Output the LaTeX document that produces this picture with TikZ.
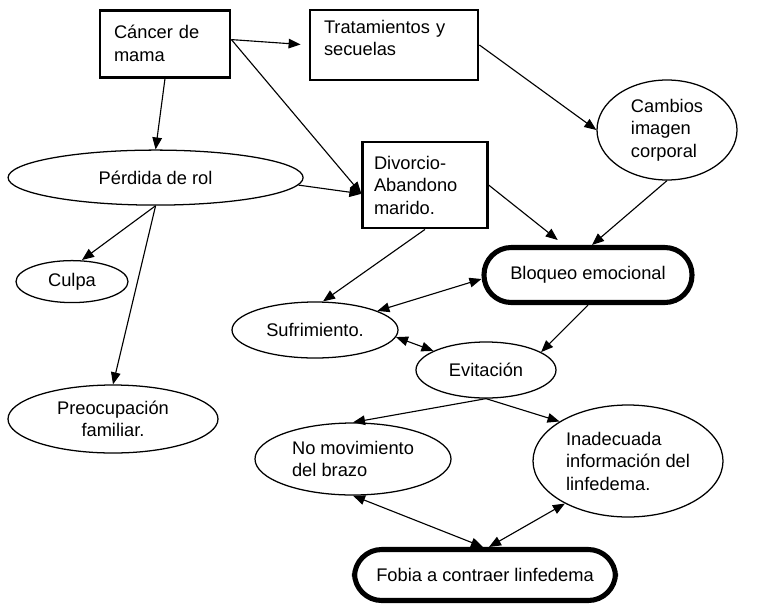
\documentclass[tikz,border=0pt]{standalone}
\usepackage{fontspec}
\setmainfont{Liberation Sans}
\usepackage{tikz}
\usetikzlibrary{positioning, arrows, arrows.meta, shapes.geometric}

\begin{document}
\begin{tikzpicture}[
  font=\fontsize{13pt}{16pt}\selectfont,
  >={Triangle[length=0.3cm, width=0.24cm]},
  conn/.style={->, line width=0.8pt},
  both/.style={<->, line width=0.8pt},
  box/.style={draw, rectangle, line width=2pt, align=left, inner xsep=0.35cm},
  oval/.style={draw, ellipse, line width=0.9pt, inner sep=0pt},
  keynode/.style={draw, rectangle, line width=3.6pt, rounded corners=0.68cm}
]
\useasboundingbox (0,0) rectangle (18.975,-15.125);

% Boxes
\node[box, text width=2.55cm, minimum height=1.675cm] (cancer) at (4.125,-1.09) {Cáncer de\\mama};
\node[box, text width=3.5cm, minimum height=1.75cm] (tratamientos) at (9.85,-1.125) {Tratamientos y\\secuelas\\[-6pt]\mbox{}};
\node[box, text width=2.55cm, minimum height=2.15cm, inner xsep=0.28cm] (divorcio) at (10.625,-4.625) {Divorcio-\\Abandono\\marido.};

% Ellipses
\node[oval, minimum width=7.375cm, minimum height=1.375cm] (perdida) at (3.89,-4.44) {Pérdida de rol};
\node[oval, minimum width=2.8cm, minimum height=1.05cm] (culpa) at (1.8,-7.04) {Culpa};
\node[oval, minimum width=5.25cm, minimum height=1.7cm, align=center] (preocupacion) at (2.825,-10.475) {Preocupación\\familiar.};
\node[oval, minimum width=4.15cm, minimum height=1.4cm] (sufrimiento) at (7.875,-8.25) {Sufrimiento.};
\node[oval, minimum width=3.5cm, minimum height=2.5cm, align=left] (cambios) at (16.675,-3.25) {Cambios\\imagen\\corporal};
\node[oval, minimum width=3.5cm, minimum height=1.4cm] (evitacion) at (12.15,-9.25) {Evitación};
\node[oval, minimum width=4.9cm, minimum height=1.8cm, align=left] (nomov) at (8.825,-11.475) {No movimiento\\del brazo};
\node[oval, minimum width=4.75cm, minimum height=2.8cm, align=left] (inadecuada) at (15.7,-11.525) {Inadecuada\\información del\\linfedema.};

% Thick rounded nodes
\node[keynode, minimum width=5.2cm, minimum height=1.375cm] (bloqueo) at (14.7,-6.875) {Bloqueo emocional};
\node[keynode, minimum width=6.525cm, minimum height=1.275cm] (fobia) at (12.125,-14.375) {Fobia a contraer linfedema};

% Arrows from the top
\draw[conn, shorten >=0.2cm] ([yshift=0.1cm]cancer.east) -- (tratamientos.west);
\draw[conn] (cancer.south) -- (perdida.north);
\draw[conn] ([yshift=0.1cm]cancer.east) -- ([yshift=-0.22cm]divorcio.west);
\draw[conn] (perdida.-3) -- ([yshift=-0.22cm]divorcio.west);
\draw[conn] (tratamientos.east) -- (cambios.west);
\draw[conn] (cambios.south) -- ([xshift=0.1cm]bloqueo.north);
\draw[conn, shorten >=0.2cm] (divorcio.east) -- ([xshift=-0.6cm]bloqueo.north);
\draw[conn] (divorcio.south) -- ([xshift=0.2cm]sufrimiento.north);
\draw[conn] (perdida.south) -- ([xshift=0.25cm]culpa.north);
\draw[conn] (perdida.south) -- (preocupacion.north);

% Middle
\draw[both] (sufrimiento.17) -- ([yshift=-0.1cm]bloqueo.west);
\draw[both] (sufrimiento.-5) -- (evitacion.160);
\draw[conn] (bloqueo.south) -- (evitacion.18);

% Bottom
\draw[conn] (evitacion.south) -- (nomov.north);
\draw[conn] (evitacion.south) -- (inadecuada.150);
\draw[both] (nomov.south) -- ([xshift=-0.05cm]fobia.north);
\draw[both] (inadecuada.214) -- ([xshift=0.1cm]fobia.north);
\end{tikzpicture}
\end{document}
